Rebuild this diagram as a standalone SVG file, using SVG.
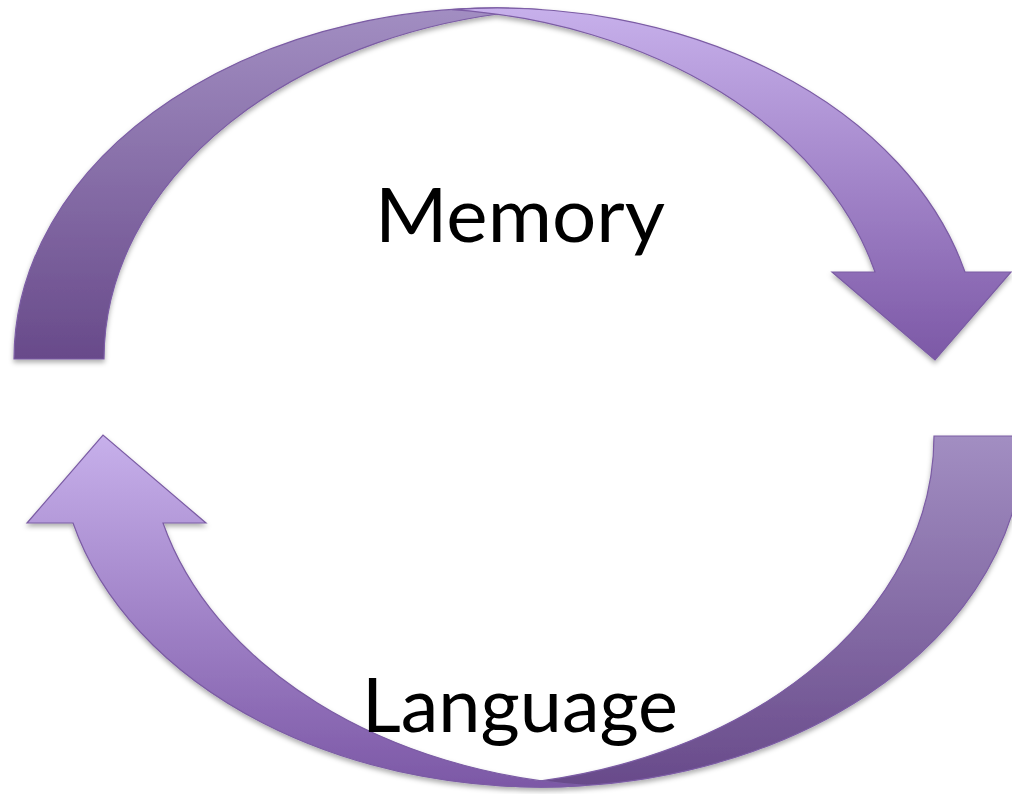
<svg xmlns="http://www.w3.org/2000/svg" width="1012" height="794" viewBox="0 0 1012 794">
  <defs>
    <style>
      .band { stroke: #7b5ca4; stroke-width: 1.2; stroke-linejoin: miter; }
      .label { font-family: Lato, "Open Sans", "Liberation Sans", sans-serif; font-size: 76px; fill: #000000; text-anchor: middle; }
    </style>
    <!-- rear band: light at the crest, dark at the tail -->
    <linearGradient id="backDown" x1="0" y1="0" x2="0" y2="1">
      <stop offset="0" stop-color="#a28ec2"/>
      <stop offset="1" stop-color="#684a8a"/>
    </linearGradient>
    <!-- front band with head: light at the crest, dark at the head -->
    <linearGradient id="frontDown" x1="0" y1="0" x2="0" y2="1">
      <stop offset="0" stop-color="#c7b0eb"/>
      <stop offset="1" stop-color="#7c58a6"/>
    </linearGradient>
    <!-- reversed versions for the rotated lower arrow, so light stays on top -->
    <linearGradient id="backUp" x1="0" y1="1" x2="0" y2="0">
      <stop offset="0" stop-color="#a28ec2"/>
      <stop offset="1" stop-color="#684a8a"/>
    </linearGradient>
    <linearGradient id="frontUp" x1="0" y1="1" x2="0" y2="0">
      <stop offset="0" stop-color="#c7b0eb"/>
      <stop offset="1" stop-color="#7c58a6"/>
    </linearGradient>
    <filter id="shadow" x="-5%" y="-5%" width="110%" height="115%">
      <feDropShadow dx="0" dy="3" stdDeviation="2.5" flood-color="#000000" flood-opacity="0.32"/>
    </filter>
    <!-- curved arrow: rear band on outer ellipse (c=497,359) and inner ellipse shifted +90,
         front band between outer ellipse and inner ellipse shifted -90, ending in a head -->
    <path id="rearBand" d="M 14,359 A 483 351 0 0 1 542,9.53 A 483 351 0 0 0 104,359 Z"/>
    <path id="frontBand" d="M 452,9.53 A 483 351 0 0 1 965,272 L 1011,272 L 935,360 L 832,272 L 875,272 A 483 351 0 0 0 452,9.53 Z"/>
  </defs>

  <rect x="0" y="0" width="1012" height="794" fill="#ffffff"/>

  <g id="connectors">
    <g id="arrow-top" filter="url(#shadow)">
      <use href="#rearBand" class="band" fill="url(#backDown)"/>
      <use href="#frontBand" class="band" fill="url(#frontDown)"/>
    </g>
    <g id="arrow-bottom" filter="url(#shadow)">
      <g transform="rotate(180 519 397.5)">
        <use href="#rearBand" class="band" fill="url(#backUp)"/>
        <use href="#frontBand" class="band" fill="url(#frontUp)"/>
      </g>
    </g>
  </g>

  <g id="label-memory">
    <text class="label" x="520" y="242" textLength="290" lengthAdjust="spacingAndGlyphs">Memory</text>
  </g>
  <g id="label-language">
    <text class="label" x="520" y="732" textLength="316" lengthAdjust="spacingAndGlyphs">Language</text>
  </g>
</svg>
